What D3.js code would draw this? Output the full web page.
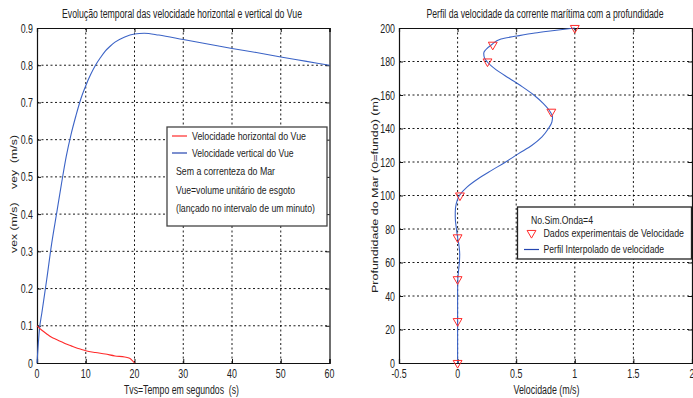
<!DOCTYPE html>
<html><head><meta charset="utf-8">
<script src="https://cdn.jsdelivr.net/npm/d3@7/dist/d3.min.js"></script>
<style>
html,body{margin:0;padding:0;background:#fff;}
svg{display:block;font-family:"Liberation Sans",Arial,sans-serif;}
svg text{white-space:pre;}
</style></head>
<body>
<svg id="c" width="693" height="398"></svg>
<script>
// ---- data: left chart ----
const timeV = [0,0.5,1,2,3,4,5,6,7,8,9,10,11,12,13,14,15,16,18,20,22,25,30,35,40,45,50,55,60];
const vey   = [0,0.09,0.135,0.225,0.32,0.40,0.48,0.555,0.615,0.665,0.71,0.745,0.775,0.80,0.82,0.838,0.851,0.862,0.876,0.884,0.886,0.881,0.869,0.857,0.845,0.834,0.822,0.811,0.800];
const timeH = [0,1,2,3,4,5,6,7,8,9,10,12,14,16,18,19,19.5,20];
const vex   = [0.1,0.088,0.078,0.069,0.063,0.057,0.051,0.046,0.041,0.037,0.033,0.028,0.024,0.019,0.016,0.013,0.007,0];
const leftXTicks = [0,10,20,30,40,50,60];
const leftYTicks = [0,0.1,0.2,0.3,0.4,0.5,0.6,0.7,0.8,0.9];
// ---- data: right chart ----
const expDepth = [200,190,180,150,100,75,50,25,0];
const expVel   = [1.0,0.30,0.255,0.80,0.02,0,0,0,0];
const profDepth = [200,198.2,197,195.2,193.4,190,187,185,182,180,175,170,165,160,155,150,147,144,140,135,130,125,120,115,110,105,100,95,90,87,80,75,70,65,60,55,50,40,25,0];
const profVel   = [1.0,0.79,0.66,0.506,0.37,0.29,0.24,0.223,0.23,0.25,0.33,0.44,0.55,0.65,0.73,0.79,0.81,0.805,0.775,0.72,0.635,0.52,0.41,0.29,0.175,0.08,0.015,-0.012,-0.02,-0.02,-0.01,0.0,0.012,0.018,0.015,0.008,0.002,0,0,0];
const rightXTicks = [-0.5,0,0.5,1,1.5,2];
const rightXLabels = ["-0.5","0","0.5","1","1.5","2"];
const rightYTicks = [0,20,40,60,80,100,120,140,160,180,200];

const BLUE = "#3b63c6", RED = "#ff2b2b";
const svg = d3.select("#c");

function txt(g, str, x, y, o){
  o = o || {};
  const t = g.append("text").text(str)
    .attr("font-size", (o.size||12)+"px")
    .attr("fill", o.fill||"#222")
    .attr("text-anchor", o.anchor||"start");
  if (o.rotate) {
    t.attr("x",0).attr("y",0)
     .attr("transform", `translate(${x},${y}) scale(${o.rsx||1},1) rotate(${o.rotate})`);
  } else {
    t.attr("x", x).attr("y", y);
  }
  let w = o.width;
  if (!w && o.sx) w = t.node().getComputedTextLength()*o.sx;
  if (w) t.attr("textLength", w).attr("lengthAdjust","spacingAndGlyphs");
  return t;
}

function frame(g, x, y, xTicks, yTicks, xLabels, yLabels){
  const [x0,x1] = x.range(), [y0,y1] = y.range(); // y0 bottom
  const grid = g.append("g").attr("stroke","#000").attr("stroke-width",0.9).attr("stroke-dasharray","2,2.5");
  xTicks.forEach(v=>{ const px=x(v); if (Math.abs(px-x0)>1 && Math.abs(px-x1)>1)
    grid.append("line").attr("x1",px).attr("x2",px).attr("y1",y0).attr("y2",y1); });
  yTicks.forEach(v=>{ const py=y(v); if (Math.abs(py-y0)>1 && Math.abs(py-y1)>1)
    grid.append("line").attr("x1",x0).attr("x2",x1).attr("y1",py).attr("y2",py); });
  const ax = g.append("g").attr("class","axes");
  ax.append("g").attr("transform",`translate(0,${y0})`)
    .call(d3.axisBottom(x).tickValues(xTicks).tickSize(-4).tickFormat(""));
  ax.append("g").attr("transform",`translate(0,${y1})`)
    .call(d3.axisTop(x).tickValues(xTicks).tickSize(-4).tickFormat(""));
  ax.append("g").attr("transform",`translate(${x0},0)`)
    .call(d3.axisLeft(y).tickValues(yTicks).tickSize(-4).tickFormat(""));
  ax.append("g").attr("transform",`translate(${x1},0)`)
    .call(d3.axisRight(y).tickValues(yTicks).tickSize(-4).tickFormat(""));
  ax.selectAll("path.domain").attr("stroke","#111").attr("stroke-width",1.2);
  ax.selectAll(".tick line").attr("stroke","#111");
  xTicks.forEach((v,i)=> txt(g, xLabels[i], x(v), y0+15, {size:13, anchor:"middle", sx:0.68}));
  yTicks.forEach((v,i)=> txt(g, yLabels[i], x0-4, y(v)+4.5, {size:13, anchor:"end", sx:0.68}));
}

// ================= LEFT CHART =================
{
  const g = svg.append("g");
  const x = d3.scaleLinear().domain([0,60]).range([37,329.5]);
  const y = d3.scaleLinear().domain([0,0.9]).range([363,28]);
  frame(g, x, y, leftXTicks, leftYTicks, leftXTicks.map(String), leftYTicks.map(v=>v===0?"0":String(v)));
  const line = d3.line().curve(d3.curveMonotoneX);
  g.append("path").attr("d", line(timeV.map((t,i)=>[x(t),y(vey[i])])))
    .attr("fill","none").attr("stroke",BLUE).attr("stroke-width",1.1);
  g.append("path").attr("d", line(timeH.map((t,i)=>[x(t),y(vex[i])])))
    .attr("fill","none").attr("stroke",RED).attr("stroke-width",1.1);
  txt(g, "Evolução temporal das velocidade horizontal e vertical do Vue", 182, 18, {size:12, anchor:"middle", width:240});
  txt(g, "Tvs=Tempo em segundos  (s)", 181.5, 394, {size:12, anchor:"middle", width:115});
  txt(g, "vex (m/s)    vey  (m/s)", 17, 194, {size:12, anchor:"middle", rotate:-90, rsx:0.72, width:118});
  const L = g.append("g");
  L.append("rect").attr("x",167).attr("y",127).attr("width",160).attr("height",99)
    .attr("fill","#fff").attr("stroke","#444").attr("stroke-width",1.3);
  L.append("line").attr("x1",172).attr("x2",187).attr("y1",136).attr("y2",136).attr("stroke",RED).attr("stroke-width",1.2);
  L.append("line").attr("x1",172).attr("x2",187).attr("y1",153).attr("y2",153).attr("stroke","#2545b0").attr("stroke-width",1.2);
  txt(L, "Velocidade horizontal do Vue", 192, 140, {size:11, width:114});
  txt(L, "Velocidade vertical do Vue", 192, 157, {size:11, width:101.5});
  txt(L, "Sem a correnteza do Mar", 176, 175, {size:11, width:99});
  txt(L, "Vue=volume unitário de esgoto", 176, 194, {size:11, width:119});
  txt(L, "(lançado no intervalo de um minuto)", 176, 212, {size:11, width:139});
}

// ================= RIGHT CHART =================
{
  const g = svg.append("g");
  const x = d3.scaleLinear().domain([-0.5,2]).range([399,692]);
  const y = d3.scaleLinear().domain([0,200]).range([363,28]);
  frame(g, x, y, rightXTicks, rightYTicks, rightXLabels, rightYTicks.map(String));
  const line = d3.line().curve(d3.curveMonotoneY);
  g.append("path").attr("d", line(profDepth.map((d,i)=>[x(profVel[i]),y(d)])))
    .attr("fill","none").attr("stroke",BLUE).attr("stroke-width",1.1);
  const tri = d3.symbol().type(d3.symbolTriangle).size(34);
  expDepth.forEach((d,i)=>{
    g.append("path").attr("d",tri()).attr("transform",`translate(${x(expVel[i])},${y(d)}) rotate(180)`)
      .attr("fill","none").attr("stroke",RED).attr("stroke-width",1);
  });
  txt(g, "Perfil da velocidade da corrente marítima com a profundidade", 545, 18, {size:12, anchor:"middle", width:237});
  txt(g, "Velocidade (m/s)", 546.5, 394, {size:12, anchor:"middle", width:66});
  txt(g, "Profundidade do Mar (0=fundo) (m)", 378, 195, {size:12, anchor:"middle", rotate:-90, rsx:0.72, width:196});
  const L = g.append("g");
  L.append("rect").attr("x",517.5).attr("y",207).attr("width",174).attr("height",52)
    .attr("fill","#fff").attr("stroke","#222").attr("stroke-width",1.3);
  txt(L, "No.Sim.Onda=4", 531, 223.5, {size:11, width:62});
  L.append("path").attr("d",tri()).attr("transform",`translate(531.5,233) rotate(180)`)
    .attr("fill","none").attr("stroke",RED).attr("stroke-width",1);
  txt(L, "Dados experimentais de Velocidade", 543.5, 237, {size:11, width:140.5});
  L.append("line").attr("x1",524).attr("x2",539).attr("y1",249.5).attr("y2",249.5).attr("stroke","#2545b0").attr("stroke-width",1.2);
  txt(L, "Perfil Interpolado de velocidade", 543.5, 253, {size:11, width:120.5});
}
</script>
</body></html>
